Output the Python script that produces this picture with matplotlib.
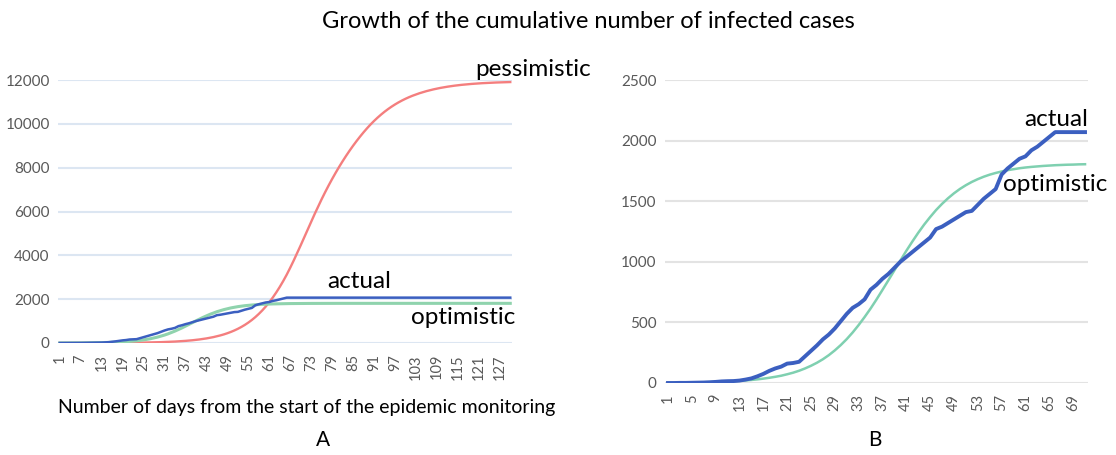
import matplotlib
matplotlib.use("Agg")
import matplotlib.pyplot as plt

plt.rcParams['font.family'] = ['Lato', 'DejaVu Sans']

# days 1..130 (panel A) and 1..71 (panel B)
days_a = list(range(1, 131))
days_b = list(range(1, 72))

pessimistic = [1, 1, 1, 1, 1, 2, 2, 2, 2, 3,
               3, 4, 4, 5, 5, 6, 7, 8, 9, 11,
               12, 14, 16, 18, 20, 23, 26, 30, 34, 39,
               45, 51, 58, 66, 75, 85, 97, 110, 125, 142,
               162, 184, 209, 237, 269, 306, 347, 393, 446, 505,
               572, 647, 732, 826, 932, 1050, 1181, 1327, 1488, 1666,
               1862, 2075, 2308, 2559, 2830, 3121, 3436, 3766, 4108, 4460,
               4818, 5178, 5536, 5888, 6231, 6563, 6883, 7190, 7484, 7766,
               8036, 8294, 8541, 8777, 9002, 9216, 9420, 9614, 9798, 9971,
               10131, 10281, 10421, 10551, 10671, 10782, 10884, 10978, 11064, 11143,
               11215, 11281, 11341, 11396, 11446, 11492, 11534, 11572, 11607, 11639,
               11668, 11694, 11718, 11740, 11760, 11778, 11794, 11809, 11822, 11834,
               11845, 11855, 11864, 11872, 11879, 11886, 11892, 11897, 11902, 11906]

optimistic = [2, 2, 3, 4, 4, 5, 6, 7, 9, 10,
              12, 15, 18, 21, 25, 30, 36, 43, 51, 60,
              72, 85, 101, 120, 142, 167, 196, 230, 269, 313,
              362, 417, 478, 544, 614, 689, 768, 848, 929, 1010,
              1090, 1166, 1239, 1307, 1369, 1427, 1478, 1524, 1565, 1601,
              1632, 1659, 1682, 1702, 1719, 1733, 1745, 1756, 1764, 1772,
              1778, 1783, 1787, 1791, 1794, 1797, 1799, 1801, 1802, 1804,
              1805, 1806, 1806, 1807, 1807, 1808, 1808, 1808, 1809, 1809,
              1809, 1809, 1809, 1809, 1809, 1809, 1809, 1809, 1809, 1810,
              1810, 1810, 1810, 1810, 1810, 1810, 1810, 1810, 1810, 1810,
              1810, 1810, 1810, 1810, 1810, 1810, 1810, 1810, 1810, 1810,
              1810, 1810, 1810, 1810, 1810, 1810, 1810, 1810, 1810, 1810,
              1810, 1810, 1810, 1810, 1810, 1810, 1810, 1810, 1810, 1810]

actual = [0, 0, 1, 1, 2, 3, 4, 6, 9, 13,
          15, 16, 20, 28, 38, 55, 75, 100, 120, 135,
          160, 165, 175, 220, 265, 310, 360, 400, 450, 510,
          570, 620, 650, 690, 770, 810, 860, 900, 950, 1000,
          1040, 1080, 1120, 1160, 1200, 1270, 1290, 1320, 1350, 1380,
          1410, 1420, 1470, 1520, 1560, 1600, 1720, 1770, 1810, 1850,
          1870, 1920, 1950, 1990, 2030, 2070, 2070, 2070, 2070, 2070,
          2070, 2070, 2070, 2070, 2070, 2070, 2070, 2070, 2070, 2070,
          2070, 2070, 2070, 2070, 2070, 2070, 2070, 2070, 2070, 2070,
          2070, 2070, 2070, 2070, 2070, 2070, 2070, 2070, 2070, 2070,
          2070, 2070, 2070, 2070, 2070, 2070, 2070, 2070, 2070, 2070,
          2070, 2070, 2070, 2070, 2070, 2070, 2070, 2070, 2070, 2070,
          2070, 2070, 2070, 2070, 2070, 2070, 2070, 2070, 2070, 2070]

ticks_a = list(range(1, 131, 6))
ticks_b = list(range(1, 72, 4))
yticks_a = [0, 2000, 4000, 6000, 8000, 10000, 12000]
yticks_b = [0, 500, 1000, 1500, 2000, 2500]

red = '#f47e7e'
blue = '#3b5fc0'
green = '#8fd3ad'
green_b = '#7fd0b0'
tick_col = '#595959'

fig = plt.figure(figsize=(11.16, 4.55), dpi=100)
W, H = 1116, 455

axA = fig.add_axes([58 / W, 112 / H, 454 / W, 263 / H])
axB = fig.add_axes([665 / W, 72 / H, 423 / W, 303 / H])

# panel A
axA.plot(days_a, pessimistic, color=red, lw=1.7)
axA.plot(days_a, optimistic, color=green, lw=2.2)
axA.plot(days_a, actual, color=blue, lw=1.8)
axA.set_xlim(0.5, 130.5)
axA.set_ylim(0, 12000)
axA.set_yticks(yticks_a)
axA.set_xticks(ticks_a)
axA.set_xticklabels([str(t) for t in ticks_a], rotation=90)
axA.grid(axis='y', color='#dce6f2', lw=1.5)
axA.set_axisbelow(True)

axA.text(153, 12500, 'pessimistic', ha='right', va='center', fontsize=17.5, clip_on=False)
axA.text(77.5, 2800, 'actual', ha='left', va='center', fontsize=17.5)
axA.text(101.5, 1150, 'optimistic', ha='left', va='center', fontsize=17.5)

# panel B
axB.plot(days_b, optimistic[:71], color=green_b, lw=1.8)
axB.plot(days_b, actual[:71], color=blue, lw=2.8)
axB.set_xlim(0.5, 71.5)
axB.set_ylim(0, 2500)
axB.set_yticks(yticks_b)
axB.set_xticks(ticks_b)
axB.set_xticklabels([str(t) for t in ticks_b], rotation=90)
axB.grid(axis='y', color='#e3e3e3', lw=1.5)
axB.set_axisbelow(True)

axB.text(71.5, 2175, 'actual', ha='right', va='center', fontsize=17.5, clip_on=False)
axB.text(57.2, 1640, 'optimistic', ha='left', va='center', fontsize=17.5, clip_on=False)

for ax in (axA, axB):
    for s in ax.spines.values():
        s.set_visible(False)
    ax.tick_params(length=0, colors=tick_col, labelsize=11)
    ax.tick_params(axis='x', pad=8, labelsize=10.5)
    ax.tick_params(axis='y', pad=6)

fig.text(588 / W, 1 - 22 / H, 'Growth of the cumulative number of infected cases',
         ha='center', va='center', fontsize=17)
fig.text(307 / W, 1 - 408 / H, 'Number of days from the start of the epidemic monitoring',
         ha='center', va='center', fontsize=14)
fig.text(323 / W, 1 - 440 / H, 'A', ha='center', va='center', fontsize=15)
fig.text(875 / W, 1 - 440 / H, 'B', ha='center', va='center', fontsize=15)

fig.savefig('out.png', dpi=100, facecolor='white')
